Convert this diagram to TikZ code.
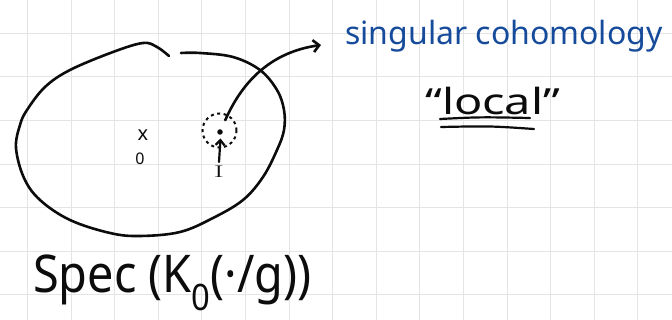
\documentclass[tikz,border=0pt]{standalone}
\usepackage{fontspec}
\newfontfamily\hand{Noto Sans}
\usetikzlibrary{arrows.meta}
\definecolor{ink}{RGB}{12,12,12}
\definecolor{penblue}{RGB}{22,75,155}
\definecolor{gridgray}{RGB}{228,228,228}
\tikzset{
  pen/.style={draw=ink, line width=2.6pt, line cap=round, line join=round},
  gridline/.style={draw=gridgray, line width=1pt},
  label/.style={inner sep=0pt, text=ink},
}
\begin{document}
\begin{tikzpicture}[x=1pt,y=-1pt]
\useasboundingbox (0,0) rectangle (672,320);
\fill[white] (0,0) rectangle (672,320);
\foreach \i in {0,...,14} \draw[gridline] ({27.5+43.6*\i},0) -- ({27.5+43.6*\i},320);
\foreach \j in {0,...,6} \draw[gridline] (0,{33.3+43.6*\j}) -- (672,{33.3+43.6*\j});
% closed region
\draw[pen] plot[smooth, tension=0.6] coordinates {(181,53) (200,53) (233,57) (260,70) (277,90) (284,110) (284,130) (277,150) (263,177) (243,200) (213,218) (180,232) (140,236) (110,233) (70,220) (40,200) (24,178) (16,148) (20,125) (27,110) (45,87) (70,70) (113,52) (143,43) (157,47) (169,56)};
% labels
\node[label, font=\hand\fontsize{20}{20}\selectfont] (xpt) at (143,135) {x};
\node[label, font=\hand\fontsize{16}{16}\selectfont] (zero) at (140,159) {0};
\node[circle, fill=ink, inner sep=0pt, minimum size=5.5pt] (pt) at (220,132) {};
\node[circle, draw=ink, line width=2pt, dash pattern=on 3pt off 3.5pt, minimum size=34pt, inner sep=0pt] (nbhd) at (219.5,130.5) {};
\node[label, font=\fontsize{17}{17}\selectfont, xscale=1.8] (I) at (219,172) {I};
\draw[pen, line width=2.2pt, -{Straight Barb[length=5pt,width=9pt]}] (I.north) ++(0,-4) -- (220.5,138.5);
\coordinate (tgt) at (321,45);
\draw[pen, shorten <=10pt, -{Straight Barb[length=6pt,width=12pt]}] (pt) .. controls (243,80) and (272,52) .. (tgt);
% texts
\node[label, anchor=base west, font=\hand\fontsize{32}{32}\selectfont, text=penblue] (sing) at (345,45) {singular cohomology};
\node[label, anchor=base west, font=\hand\fontsize{36}{36}\selectfont, xscale=1.3] (local) at (425,115) {“local”};
\draw[pen, line width=2.2pt] (440,119) .. controls (480,117) .. (530,118);
\draw[pen, line width=2.2pt] (441,127) .. controls (490,126) .. (534,129);
\node[label, anchor=base west, font=\hand\fontsize{52}{52}\selectfont, xscale=0.9] (spec) at (33,293) {Spec (K\textsubscript{0}(·/g))};
\end{tikzpicture}
\end{document}
